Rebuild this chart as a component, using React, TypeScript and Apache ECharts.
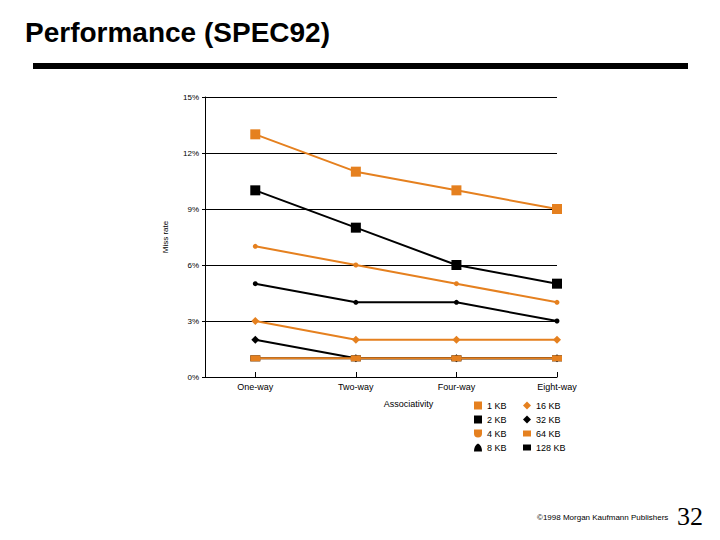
import React, { useEffect, useRef } from "react";
import * as echarts from "echarts";

const categories = ["One-way", "Two-way", "Four-way", "Eight-way"];
const seriesNames = ["1 KB", "2 KB", "4 KB", "8 KB", "16 KB", "32 KB", "64 KB", "128 KB"];
const kb1 = [13, 11, 10, 9];
const kb2 = [10, 8, 6, 5];
const kb4 = [7, 6, 5, 4];
const kb8 = [5, 4, 4, 3];
const kb16 = [3, 2, 2, 2];
const kb32 = [2, 1, 1, 1];
const kb64 = [1, 1, 1, 1];
const kb128 = [1, 1, 1, 1];
const yTicks = [0, 3, 6, 9, 12, 15];

const ORANGE = "#E5801F";
const BLACK = "#000000";

export default function App() {
  const ref = useRef<HTMLDivElement>(null);
  useEffect(() => {
    if (!ref.current) return;
    const chart = echarts.init(ref.current, undefined, { renderer: "svg" });
    const values = [kb1, kb2, kb4, kb8, kb16, kb32, kb64, kb128];
    const colors = [ORANGE, BLACK, ORANGE, BLACK, ORANGE, BLACK, ORANGE, BLACK];
    const symbols: any[] = ["rect", "rect", "circle", "circle", "diamond", "diamond", "rect", "rect"];
    const sizes: any[] = [10, 10, 5, 5, 8, 8, [10, 6], [10, 6]];
    const zs = [8, 7, 6, 5, 4, 3, 2, 1];
    const legendIcons = [
      "rect",
      "rect",
      "path://M0,0H8V4Q8,8 4,8Q0,8 0,4Z",
      "path://M4,0Q8,2 8,8H0Q0,2 4,0Z",
      "diamond",
      "diamond",
      "path://M0,1H8V7H0Z",
      "path://M0,1H8V7H0Z",
    ];
    const series = seriesNames.map((name, i) => ({
      name,
      type: "line",
      data: values[i].map((v, j) => [j, v]),
      symbol: symbols[i],
      symbolSize: sizes[i],
      z: i === 6 ? 9 : zs[i],
      lineStyle: { color: colors[i], width: 2 },
      itemStyle: { color: colors[i] },
    }));
    const legendBase = {
      orient: "vertical",
      itemWidth: 8,
      itemHeight: 8,
      itemGap: 5,
      top: 396,
      textStyle: { fontSize: 9, color: "#000", fontFamily: "Liberation Sans, Arial, sans-serif", padding: [0, 0, 0, 0] },
    };
    chart.setOption({
      animation: false,
      textStyle: { fontFamily: "Liberation Sans, Arial, sans-serif" },
      grid: { left: 205, right: 163, top: 97, bottom: 163, containLabel: false },
      xAxis: {
        type: "value",
        min: -0.5,
        max: 3,
        interval: 0.5,
        name: "Associativity",
        nameLocation: "middle",
        nameGap: 22,
        nameTextStyle: { fontSize: 9, color: "#000", padding: [0, 0, 0, 55] },
        axisLine: { show: true, onZero: false, lineStyle: { color: "#000", width: 1 } },
        axisTick: { show: true, inside: true, length: 5, customValues: [0, 1, 2, 3], lineStyle: { color: "#000" } },
        axisLabel: {
          customValues: [0, 1, 2, 3],
          formatter: (v: number) => categories[Math.round(v)] ?? "",
          fontSize: 9,
          color: "#000",
          margin: 5,
        },
        splitLine: { show: false },
      },
      yAxis: {
        type: "value",
        min: yTicks[0],
        max: yTicks[yTicks.length - 1],
        interval: 3,
        name: "Miss rate",
        nameLocation: "middle",
        nameGap: 36,
        nameRotate: 90,
        nameTextStyle: { fontSize: 8, color: "#000" },
        axisLine: { show: true, onZero: false, lineStyle: { color: "#000", width: 1 } },
        axisTick: { show: true, length: 3, lineStyle: { color: "#000" } },
        axisLabel: { formatter: "{value}%", fontSize: 8, color: "#000", margin: 6 },
        splitLine: { show: true, lineStyle: { color: "#000", width: 1 } },
      },
      legend: [
        { ...legendBase, left: 469, data: seriesNames.slice(0, 4).map((n, i) => ({ name: n, icon: legendIcons[i] })) },
        { ...legendBase, left: 518, data: seriesNames.slice(4).map((n, i) => ({ name: n, icon: legendIcons[i + 4] })) },
      ],
      series,
      graphic: [
        {
          type: "text",
          left: 25,
          top: 18,
          style: { text: "Performance (SPEC92)", font: "bold 28px 'Liberation Sans', Arial, sans-serif", fill: "#000" },
        },
        { type: "rect", shape: { x: 33, y: 63, width: 655, height: 6 }, style: { fill: "#000" } },
        {
          type: "text",
          left: 537,
          top: 513,
          style: { text: "©1998 Morgan Kaufmann Publishers", font: "8px 'Liberation Sans', Arial, sans-serif", fill: "#000" },
        },
        {
          type: "text",
          left: 677,
          top: 503,
          style: { text: "32", font: "26px 'Liberation Serif', 'Times New Roman', serif", fill: "#000" },
        },
      ],
    });
    return () => chart.dispose();
  }, []);
  return <div ref={ref} style={{ width: 720, height: 540, position: "absolute", left: 0, top: 0 }} />;
}
